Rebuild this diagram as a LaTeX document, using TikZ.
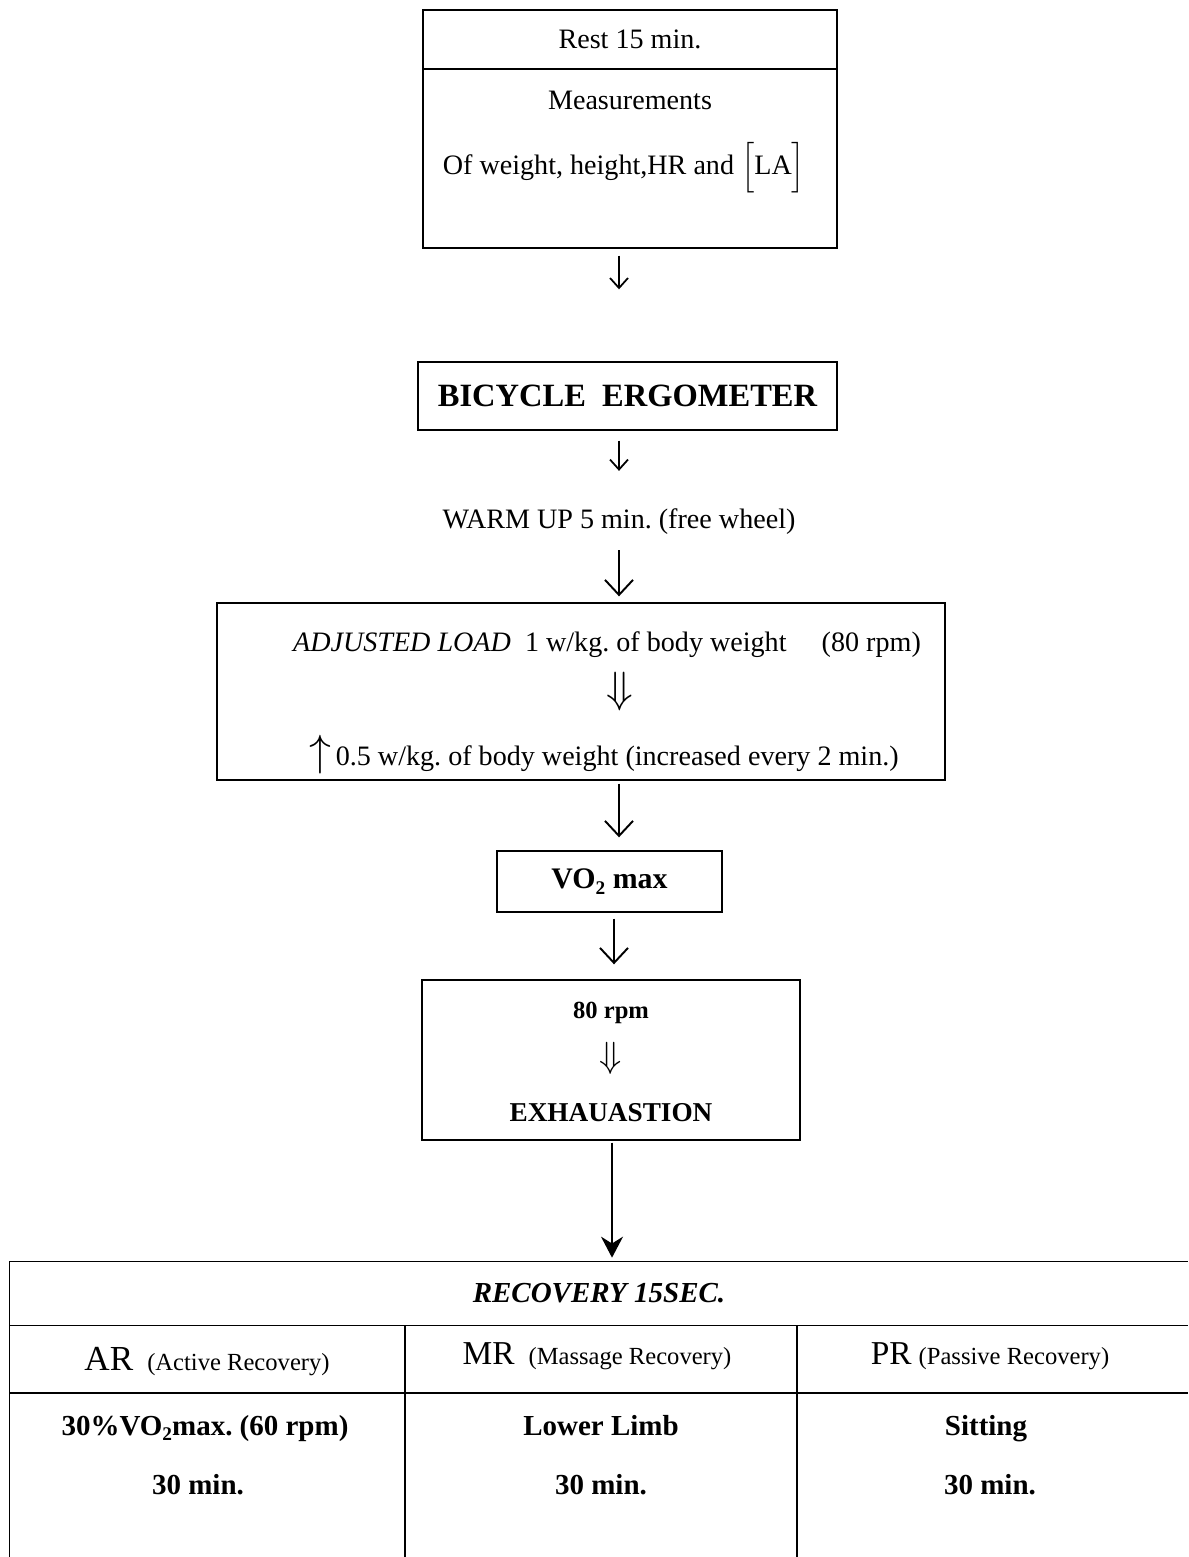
\documentclass[tikz,border=0pt]{standalone}
\usepackage{amsmath,amssymb}
\usepackage{fontspec}
\setmainfont{Liberation Serif}
\usetikzlibrary{arrows.meta}
\frenchspacing

\begin{document}
\begin{tikzpicture}[x=0.02cm, y=-0.02cm,
    box/.style={draw, line width=0.8pt, inner sep=0pt},
    txt/.style={anchor=base, inner sep=0pt, font=\fontsize{16}{19}\selectfont},
    boldtxt/.style={anchor=base, inner sep=0pt, font=\fontsize{16.5}{19}\selectfont\bfseries},
    smallarr/.style={line width=1pt, -{Straight Barb[length=0.2cm, width=0.36cm]}},
    bigarr/.style={line width=1.1pt, -{Straight Barb[length=0.3cm, width=0.56cm]}}]
    \useasboundingbox (0,0) rectangle (1188,1557);

    % Rest and measurements
    \node[box, minimum width=8.28cm, minimum height=1.18cm, font=\fontsize{16}{19}\selectfont] (rest) at (630,39.5) {Rest 15 min.};
    \node[box, minimum width=8.28cm, minimum height=3.58cm] (meas) at (630,158.5) {};
    \node[txt] (meastxt) at (630,110) {Measurements};
    \node[txt] (weight) at (624,175) {Of weight, height,HR and $\Big[$LA$\Big]$};

    % Ergometer and warm up
    \node[box, minimum width=8.38cm, minimum height=1.36cm, font=\fontsize{18.5}{20}\selectfont\bfseries] (bike) at (627.5,396) {BICYCLE\ \ ERGOMETER};
    \node[txt] (warm) at (619,528) {WARM UP 5 min. (free wheel)};

    % Load
    \node[box, minimum width=14.56cm, minimum height=3.54cm] (adj) at (581,691.5) {};
    \node[txt] (load) at (607,651) {\textit{ADJUSTED LOAD}\ \ 1 w/kg. of body weight\quad\ (80 rpm)};
    \node[inner sep=0pt, font=\fontsize{24}{26}\selectfont] (loaddown) at (620,692) {$\Downarrow$};
    \node[txt] (incr) at (604,765) {{\fontsize{26}{26}\selectfont$\uparrow$}\,0.5 w/kg. of body weight (increased every 2 min.)};

    % VO2 max and exhaustion
    \node[box, minimum width=4.5cm, minimum height=1.22cm, font=\fontsize{17}{19}\selectfont\bfseries] (vo) at (609.5,881.5) {VO\raisebox{-3pt}{\fontsize{11}{12}\selectfont 2} max};
    \node[box, minimum width=7.56cm, minimum height=3.2cm] (exh) at (611,1060) {};
    \node[anchor=base, inner sep=0pt, font=\fontsize{14}{16}\selectfont\bfseries] (rpm) at (611,1018) {80 rpm};
    \node[inner sep=0pt, font=\fontsize{20}{22}\selectfont] (exhdown) at (611,1058) {$\Downarrow$};
    \node[anchor=base, inner sep=0pt, font=\fontsize{15.5}{18}\selectfont\bfseries] (exhtxt) at (611,1121) {EXHAUASTION};

    % Recovery table
    \node[minimum width=23.56cm, minimum height=1.26cm, inner sep=0pt, font=\fontsize{16.5}{19}\selectfont\bfseries\itshape] (recov) at (599,1293.5) {RECOVERY 15SEC.};
    \draw[line width=0.8pt] (recov.north west |- 0,1557) -- (recov.north west) -- (recov.north east);
    \draw[line width=0.8pt] (recov.south west) -- (recov.south east);
    \draw[line width=0.8pt] (10,1393) -- (1188,1393);
    \draw[line width=0.8pt] (405,1325) -- (405,1557);
    \draw[line width=0.8pt] (797,1325) -- (797,1557);

    \node[txt] (ar) at (207,1370) {{\fontsize{20}{22}\selectfont AR}\ \ {\fontsize{14}{16}\selectfont(Active Recovery)}};
    \node[txt] (mr) at (597,1364) {{\fontsize{19}{22}\selectfont MR}\ \ {\fontsize{14}{16}\selectfont(Massage Recovery)}};
    \node[txt] (pr) at (990,1364) {{\fontsize{19}{22}\selectfont PR}\ {\fontsize{14}{16}\selectfont(Passive Recovery)}};

    \node[boldtxt] (arload) at (205,1435) {30\%VO\raisebox{-3pt}{\fontsize{11}{12}\selectfont 2}max. (60 rpm)};
    \node[boldtxt] (mrload) at (601,1435) {Lower Limb};
    \node[boldtxt] (prload) at (986,1435) {Sitting};
    \foreach \x/\n in {198/artime, 601/mrtime, 990/prtime}
        \node[boldtxt] (\n) at (\x,1494) {30 min.};

    % Arrows
    \draw[smallarr, shorten <=0.14cm, shorten >=1.44cm] (meas.south -| warm.base) -- (bike.north -| warm.base);
    \draw[smallarr, shorten <=0.2cm, shorten >=0.74cm] (bike.south -| warm.base) -- (warm.north);
    \draw[bigarr, shorten <=0.32cm, shorten >=0.12cm] (warm.south) -- (adj.north -| warm.base);
    \draw[bigarr, shorten <=0.06cm, shorten >=0.26cm] (adj.south -| warm.base) -- (vo.north -| warm.base);
    \draw[bigarr, shorten <=0.12cm, shorten >=0.3cm] ([xshift=0.09cm]vo.south) -- ([xshift=0.09cm]vo.south |- exh.north);
    \draw[line width=1.1pt, -{Stealth[length=0.42cm, width=0.44cm]}, shorten <=0.04cm, shorten >=0.08cm] ([xshift=0.02cm]exh.south) -- ([xshift=0.02cm]exh.south |- recov.north);
\end{tikzpicture}
\end{document}
